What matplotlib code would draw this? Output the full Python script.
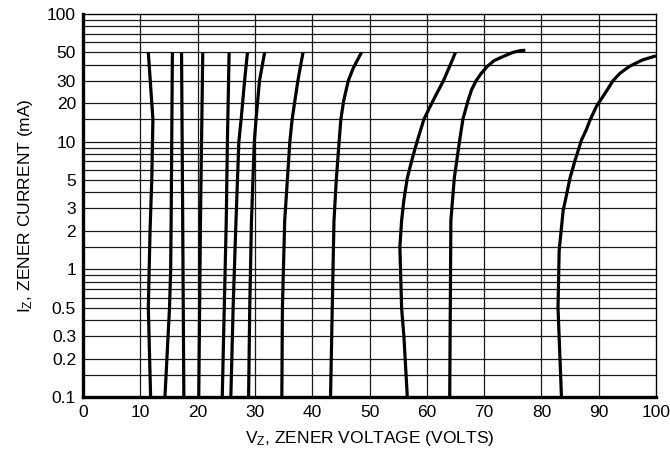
import numpy as np
import matplotlib.pyplot as plt

plt.rcParams['font.family'] = ['Liberation Sans', 'DejaVu Sans']
plt.rcParams['mathtext.fontset'] = 'custom'
plt.rcParams['mathtext.rm'] = 'Liberation Sans'

# zener current (mA) and voltage (V)
curves = [
    ([0.1, 0.5, 2, 5, 15, 50], [11.8, 11.4, 11.7, 12.0, 12.2, 11.4]),
    ([0.1, 0.5, 1, 3, 50], [14.3, 15.1, 15.3, 15.4, 15.6]),
    ([0.1, 2.4, 50], [17.6, 17.4, 17.2]),
    ([0.1, 2.4, 50], [20.2, 20.5, 20.9]),
    ([0.1, 2.4, 10, 50], [24.3, 25.0, 25.2, 25.5]),
    ([0.1, 0.5, 2.4, 10, 15, 30, 50], [25.8, 26.2, 26.7, 27.2, 27.6, 28.2, 28.7]),
    ([0.1, 0.5, 2.4, 10, 15, 30, 50], [28.9, 29.1, 29.4, 29.9, 30.2, 30.8, 31.7]),
    ([0.1, 0.5, 2.4, 10, 15, 30, 50], [34.7, 34.8, 35.2, 36.1, 36.5, 37.5, 38.4]),
    ([0.1, 0.5, 2.4, 5, 10, 15, 21, 30, 38, 50],
     [43.2, 43.5, 43.8, 44.2, 44.7, 45.0, 45.5, 46.3, 47.2, 48.6]),
    ([0.1, 0.3, 0.5, 1.5, 2.4, 3.5, 5.2, 7.2, 10, 15, 21, 30, 39, 50],
     [56.6, 56.0, 55.6, 55.3, 55.6, 56.0, 56.6, 57.4, 58.3, 59.5, 61.1, 62.9, 64.0, 65.0]),
    ([0.1, 2.4, 5.2, 10, 15, 21, 25.4, 30, 34.3, 39, 43, 46, 50, 51.6, 52],
     [64.0, 64.2, 64.8, 65.7, 66.3, 67.2, 67.8, 68.6, 69.5, 70.6, 71.7, 73.1, 75.0, 76.3, 77.2]),
    ([0.1, 0.5, 1.4, 2.9, 3.5, 5.2, 7.2, 10.3, 12.3, 14.8, 18.9, 23.9, 30, 34.3,
      38.7, 41, 43.6, 45, 47],
     [83.5, 82.9, 83.1, 83.8, 84.2, 85.0, 85.9, 87.0, 87.8, 88.5, 89.6, 91.1, 92.5, 93.7,
      95.3, 96.4, 97.6, 98.6, 100.0]),
]

x_ticks = [0, 10, 20, 30, 40, 50, 60, 70, 80, 90, 100]
y_ticks = [0.1, 0.2, 0.3, 0.5, 1, 2, 3, 5, 10, 20, 30, 50, 100]
y_tick_labels = ['0.1', '0.2', '0.3', '0.5', '1', '2', '3', '5', '10', '20', '30', '50', '100']
grid_steps = [1, 1.5, 2, 3, 4, 5, 6, 7, 8, 9]

fig = plt.figure(figsize=(6.7, 4.55), dpi=100)
ax = fig.add_axes([83 / 670, 58 / 455, 573 / 670, 383 / 455])
ax.set_yscale('log')
ax.set_xlim(0, 100)
ax.set_ylim(0.1, 100)

# grid
for dec in [0.1, 1, 10]:
    for s in grid_steps:
        ax.axhline(dec * s, color='#1a1a1a', lw=0.9, zorder=1)
for x in x_ticks[1:-1]:
    ax.axvline(x, color='#1a1a1a', lw=0.9, zorder=1)

for cur, volt in curves:
    ax.plot(volt, cur, color='black', lw=2.3, solid_capstyle='butt',
            solid_joinstyle='round', zorder=3)

ax.set_xticks(x_ticks)
ax.set_yticks(y_ticks)
ax.set_yticklabels(y_tick_labels)
ax.yaxis.set_minor_locator(plt.NullLocator())
ax.tick_params(length=0, labelsize=12.5, pad=6)
ax.tick_params(axis='y', pad=5)

for side in ['left', 'bottom']:
    ax.spines[side].set_linewidth(2.4)
for side in ['top', 'right']:
    ax.spines[side].set_linewidth(1.0)

ax.set_xlabel(r'V$\mathregular{_Z}$, ZENER VOLTAGE (VOLTS)', fontsize=12.5, labelpad=6)
ax.set_ylabel(r'I$\mathregular{_Z}$, ZENER CURRENT (mA)', fontsize=12.5, labelpad=9)

fig.savefig('out.png', dpi=100)
